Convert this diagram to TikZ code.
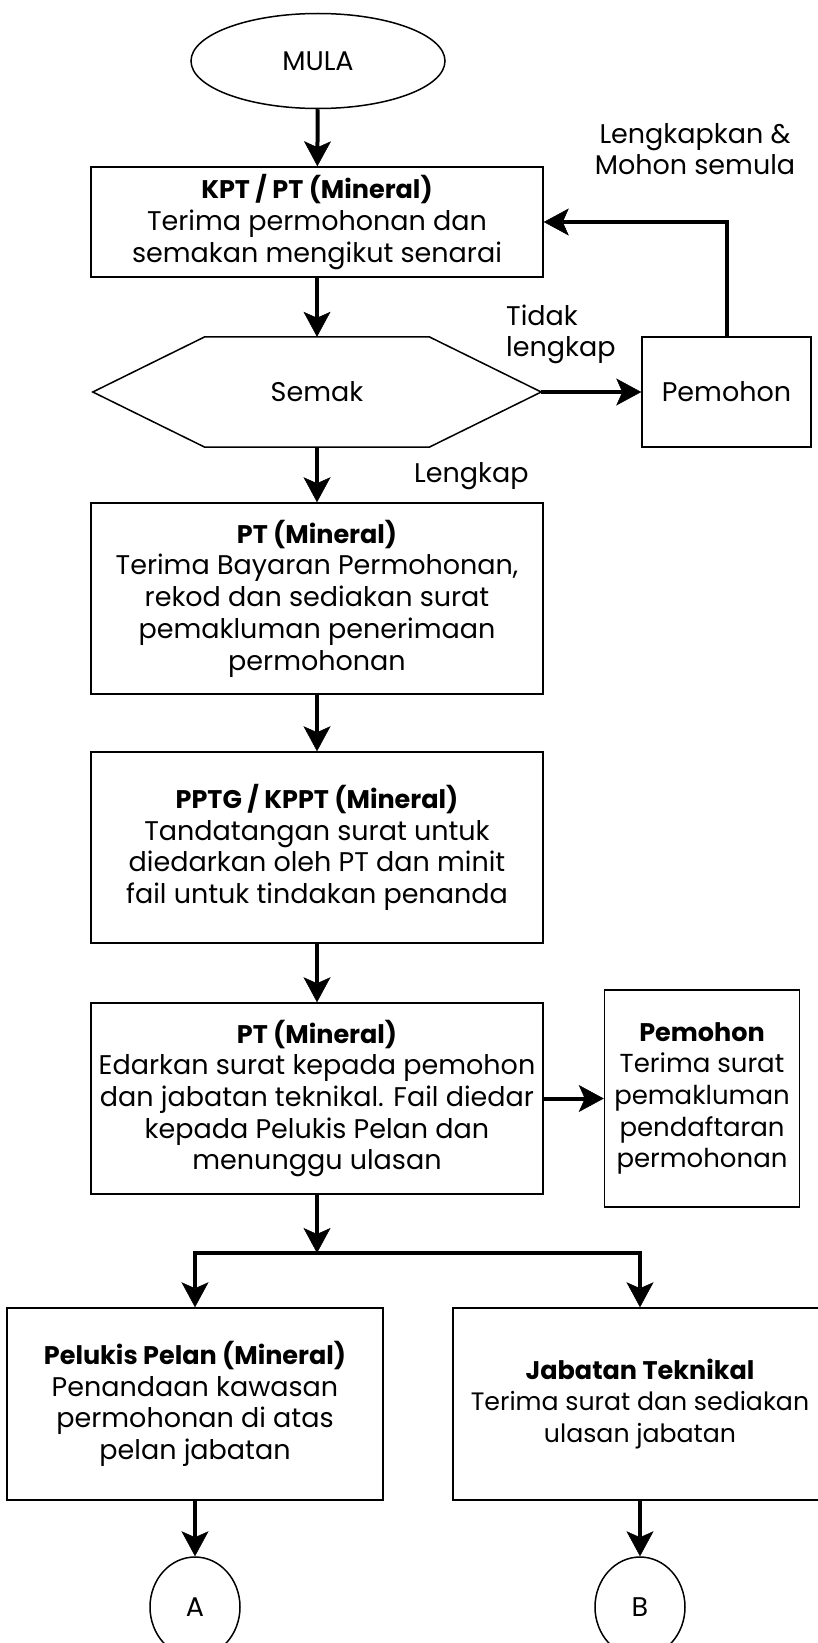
\documentclass[tikz,border=0pt]{standalone}
\usepackage{fontspec}
\setmainfont{Poppins}
\usetikzlibrary{arrows.meta,shapes.geometric}
% bold first line of a step box
\newcommand{\boxhead}[1]{{\fontsize{25.5}{31.7}\selectfont\bfseries #1}}

\begin{document}
\begin{tikzpicture}[x=1pt,y=-1pt,
  font=\fontsize{27}{31.7}\selectfont,
  box/.style={draw, line width=1.5pt, rectangle, align=center, inner sep=0pt},
  oval/.style={draw, line width=1.5pt, ellipse, inner sep=0pt},
  fathead/.tip={Stealth[length=25pt,width=27pt,inset=6pt,line width=0.5pt]},
  flow/.style={line width=4pt, -{fathead}},
  twoway/.style={line width=4pt, {fathead}-{fathead}},
  lbl/.style={inner sep=0pt},
]
% page
\fill[white] (0,0) rectangle (817,1643);
\useasboundingbox (0,0) rectangle (817,1643);

% main column
\node[oval, minimum width=254pt, minimum height=95pt] (start) at (318,61) {MULA};
\node[box, minimum width=452pt, minimum height=110pt] (b1) at (317,222)
  {\boxhead{KPT / PT (Mineral)}\\Terima permohonan dan\\semakan mengikut senarai};

% check: hexagon drawn around an invisible frame node
\node[inner sep=0pt, minimum width=448pt, minimum height=110pt] (chk) at (317,392) {Semak};
\draw[line width=1.5pt]
  ([xshift=112pt]chk.north west) -- ([xshift=-112pt]chk.north east) -- (chk.east)
  -- ([xshift=-112pt]chk.south east) -- ([xshift=112pt]chk.south west) -- (chk.west) -- cycle;

\node[box, minimum width=169pt, minimum height=110pt] (pm) at (726.5,392) {Pemohon};

\node[box, minimum width=452pt, minimum height=191pt] (b2) at (317,598.5)
  {\boxhead{PT (Mineral)}\\Terima Bayaran Permohonan,\\rekod dan sediakan surat\\pemakluman penerimaan\\permohonan};
\node[box, minimum width=452pt, minimum height=191pt] (b3) at (317,847.5)
  {\boxhead{PPTG / KPPT (Mineral)}\\Tandatangan surat untuk\\diedarkan oleh PT dan minit\\fail untuk tindakan penanda};
\node[box, minimum width=452pt, minimum height=191pt] (b4) at (317,1098.5)
  {\boxhead{PT (Mineral)}\\Edarkan surat kepada pemohon\\dan jabatan teknikal. Fail diedar\\kepada Pelukis Pelan dan\\menunggu ulasan};
\node[box, minimum width=195pt, minimum height=217pt, font=\fontsize{26}{31.7}\selectfont] (b5) at (702,1098.5)
  {\boxhead{Pemohon}\\Terima surat\\pemakluman\\pendaftaran\\permohonan};

\node[box, minimum width=376pt, minimum height=192pt] (b6) at (195,1404)
  {\boxhead{Pelukis Pelan (Mineral)}\\Penandaan kawasan\\permohonan di atas\\pelan jabatan};
\node[box, minimum width=374pt, minimum height=192pt, font=\fontsize{25.2}{31.7}\selectfont] (b7) at (640,1404)
  {\boxhead{Jabatan Teknikal}\\Terima surat dan sediakan\\ulasan jabatan};

\node[oval, minimum width=90pt, minimum height=100pt] (A) at (195,1607) {A};
\node[oval, minimum width=90pt, minimum height=100pt] (B) at (640,1607) {B};

% labels
\node[lbl, anchor=base] (lmohon) at (695,143)
  {\begin{tabular}[t]{@{}c@{}}Lengkapkan \&\\Mohon semula\end{tabular}};
\node[lbl, anchor=base west] (ltidak) at (506,325)
  {\begin{tabular}[t]{@{}l@{}}Tidak\\lengkap\end{tabular}};
\node[lbl, anchor=base west] (llengkap) at (414,482) {Lengkap};

% connectors
\draw[flow] (start) -- (b1);
\draw[flow] (b1) -- (chk);
\draw[flow] (chk.east) -- (pm.west);
\draw[flow] (pm.north) |- (b1.east);
\draw[flow] (chk) -- (b2);
\draw[flow] (b2) -- (b3);
\draw[flow] (b3) -- (b4);
\draw[flow] (b4.east) -- (b5.west);
\coordinate (split) at (317,1253);
\draw[flow] (b4.south) -- (split);
\draw[twoway] (b6.north) -- (b6.north |- split) -- (b7.north |- split) -- (b7.north);
\draw[flow] (b6) -- (A);
\draw[flow] (b7) -- (B);
\end{tikzpicture}
\end{document}
